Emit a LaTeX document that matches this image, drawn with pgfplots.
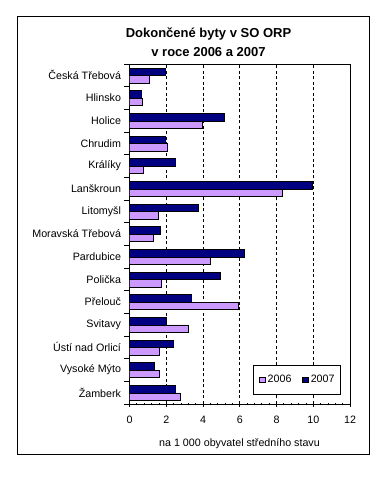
\documentclass[border=0pt]{standalone}
\usepackage{pgfplots}
\pgfplotsset{compat=1.18}
\usepackage{fontspec}
\setmainfont{Liberation Sans}
\definecolor{c2006}{HTML}{CC99FF}
\definecolor{c2007}{HTML}{000080}
\begin{document}
\begin{tikzpicture}
\useasboundingbox (0,0) rectangle (384bp,477bp);
\fill[white] (0,0) rectangle (384bp,477bp);
\draw[line width=1bp] (17.3bp,22bp) rectangle (369.7bp,460bp);
\node[font=\fontsize{13bp}{15bp}\selectfont\bfseries] at (208.5bp,442.5bp) {Dokončené byty v SO ORP};
\node[font=\fontsize{13bp}{15bp}\selectfont\bfseries] at (208.5bp,424.5bp) {v roce 2006 a 2007};
\node[font=\fontsize{10.7bp}{12bp}\selectfont] at (239.5bp,33.5bp) {na 1 000 obyvatel středního stavu};
\begin{axis}[
  at={(129.5bp,73bp)}, anchor=south west,
  scale only axis, width=220.5bp, height=340bp,
  xbar, bar width=7.5bp,
  xmin=0, xmax=12, ymin=-0.5, ymax=14.5,
  axis line style={line width=0.8bp},
  xtick={0,2,...,12}, minor x tick num=4,
  xtick pos=bottom, ytick pos=left,
  xtick align=center,
  major tick length=5bp, minor tick length=2.5bp,
  tick style={black, line width=0.8bp},
  xmajorgrids, grid style={black, line width=0.8bp, dash pattern=on 3bp off 2.5bp},
  ytick={-0.5,0.5,...,14.5}, yticklabels={},
  extra y ticks={0,...,14},
  extra y tick labels={Žamberk,Vysoké Mýto,Ústí nad Orlicí,Svitavy,Přelouč,Polička,Pardubice,Moravská Třebová,Litomyšl,Lanškroun,Králíky,Chrudim,Holice,Hlinsko,Česká Třebová},
  extra y tick style={major tick length=0pt, ymajorgrids=false},
  y tick label style={xshift=-5bp},
  x tick label style={yshift=-6bp},
  tick label style={font=\fontsize{10.7bp}{12bp}\selectfont},
  /pgf/number format/assume math mode=true,
  legend columns=2,
  legend style={at={(0.56,0.0256)}, anchor=south west, draw=black, line width=0.8bp,
    font=\fontsize{10.7bp}{12bp}\selectfont, inner xsep=6bp, inner ysep=10.5bp,
    nodes={inner sep=0pt},
    /tikz/every odd column/.append style={column sep=2bp},
    /tikz/every even column/.append style={column sep=11bp}},
  legend image code/.code={\draw[#1, line width=0.6bp] (0bp,-2.85bp) rectangle (5.7bp,2.85bp);},
]
\addplot[fill=c2006, draw=black, line width=0.8bp, bar shift=-4bp] coordinates {
(2.79,0) (1.65,1) (1.65,2) (3.22,3) (5.94,4) (1.76,5) (4.40,6) (1.32,7) (1.58,8) (8.33,9) (0.76,10) (2.08,11) (3.99,12) (0.72,13) (1.09,14)};
\addplot[fill=c2007, draw=black, line width=0.8bp, bar shift=3.5bp] coordinates {
(2.52,0) (1.38,1) (2.41,2) (2.01,3) (3.39,4) (4.96,5) (6.27,6) (1.70,7) (3.77,8) (9.96,9) (2.52,10) (1.97,11) (5.18,12) (0.67,13) (1.97,14)};
\legend{2006,2007}
\end{axis}
\end{tikzpicture}
\end{document}
